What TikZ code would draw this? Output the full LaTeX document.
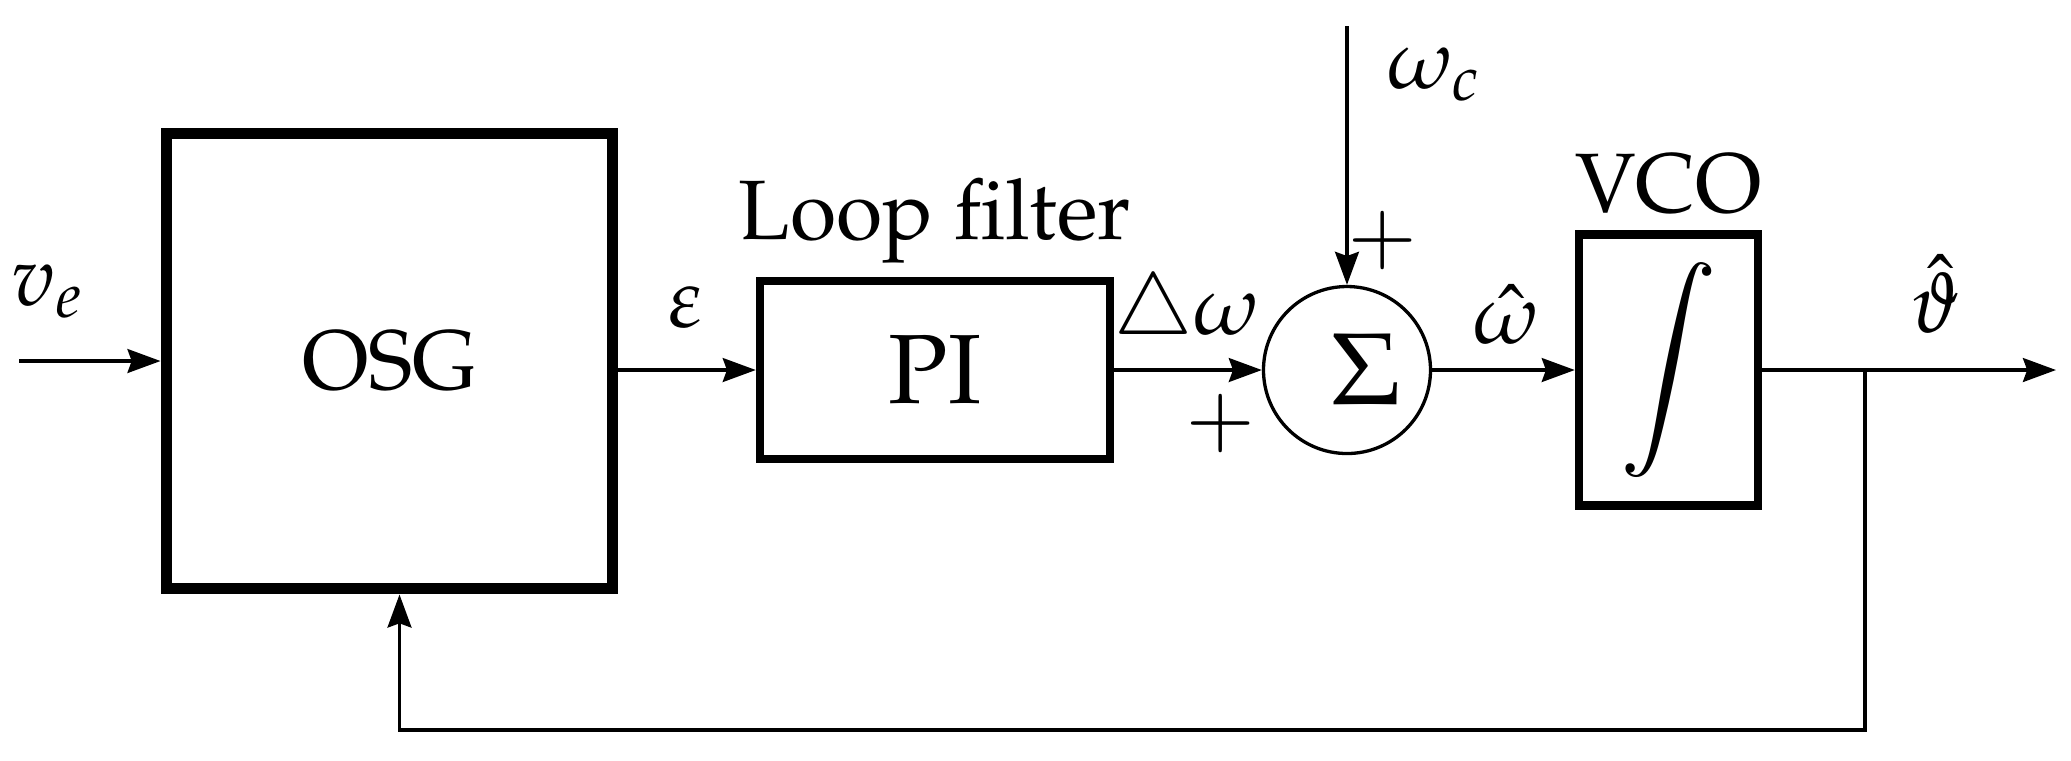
\documentclass[tikz,border=0pt]{standalone}
\usepackage[T1]{fontenc}
\usepackage{mathpazo}
\usepackage{tikz}
\usetikzlibrary{positioning,arrows.meta}

\tikzset{
  block/.style={draw,rectangle,line width=1.2pt,inner sep=0pt},
  sumnode/.style={draw,circle,line width=0.47pt,minimum size=0.835cm,inner sep=0pt},
  lbl/.style={inner sep=0pt},
}

\begin{document}
\begin{tikzpicture}[->,>={Stealth[length=4.7pt,width=3.4pt,inset=0.6pt]},line width=0.47pt,font=\fontsize{12}{14}\selectfont]
	\useasboundingbox (0,0) rectangle (10.355,-3.8);
	% blocks
	\node[block,line width=1.7pt,minimum width=2.23cm,minimum height=2.275cm] (osg) at (1.9475,-1.805) {OSG};
	\node[block,minimum width=1.75cm,minimum height=0.89cm,font=\fontsize{14}{16}\selectfont] (pi) at (4.675,-1.85) {PI};
	\node[sumnode] (sum) at (6.735,-1.85) {};
	\node[lbl,font=\fontsize{14.5}{16}\selectfont] (sigma) at (6.83,-1.85) {$\Sigma$};
	\node[block,minimum width=0.895cm,minimum height=1.355cm,font=\fontsize{15.3}{17}\selectfont] (vco) at (8.3425,-1.85) {$\displaystyle\int$};
	\node[lbl,above=0.06cm of pi] (lloop) {Loop filter};
	\node[lbl,above=0.07cm of vco] (lvco) {VCO};

	% signals
	\node[lbl,anchor=base west] (lve) at (0.05,-1.525) {$v_e$};
	\node[lbl,anchor=base] (leps) at (3.425,-1.635) {$\varepsilon$};
	\node[lbl,anchor=base] (ldw) at (5.935,-1.67) {$\triangle\omega$};
	\node[lbl,anchor=base] (lwc) at (7.175,-0.44) {$\omega_c$};
	\node[lbl,anchor=base] (lwhat) at (7.535,-1.715) {$\hat{\omega}$};
	\node[lbl,anchor=base] (ltheta) at (9.675,-1.66) {$\hat{\vartheta}$};
	\node[lbl] (plustop) at (6.915,-1.205) {$+$};
	\node[lbl] (plusleft) at (6.105,-2.12) {$+$};

	\coordinate (vin) at (0.095,-1.805);
	\coordinate (wcin) at (6.735,-0.13);
	\coordinate (vout) at (10.28,-1.85);
	\coordinate (branch) at (9.325,-1.85);
	\coordinate (fb) at (9.325,-3.65);

	\draw (vin) -- (osg);
	\draw (osg.east |- pi) -- (pi);
	\draw (pi) -- (sum);
	\draw (wcin) -- (sum);
	\draw (sum) -- (vco);
	\draw (vco) -- (vout);
	\draw (branch) -- (fb) -| ([xshift=0.05cm]osg.south);
\end{tikzpicture}
\end{document}
